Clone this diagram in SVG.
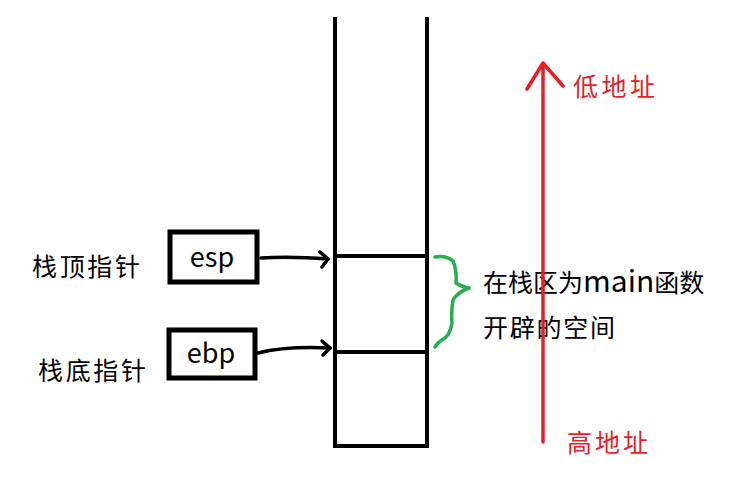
<svg xmlns="http://www.w3.org/2000/svg" width="753" height="493" viewBox="0 0 753 493">
<defs>
<style>
.t{font-family:"Noto Sans CJK SC","Microsoft YaHei",sans-serif;font-size:25px;fill:#000}
.lat{font-size:27px}
.big{font-size:30px}
.r{fill:#ed1c24}
.blk{fill:none;stroke:#000;stroke-width:4;stroke-linecap:square}
.box{fill:#fff;stroke:#000;stroke-width:5}
.arr{fill:none;stroke:#000;stroke-width:3.5;stroke-linecap:round;stroke-linejoin:round}
</style>
</defs>
<rect width="753" height="493" fill="#fff"/>
<g id="stack">
<path class="blk" d="M335 19 V446 H427 V19"/>
<line class="blk" x1="335" y1="256" x2="427" y2="256"/>
<line class="blk" x1="335" y1="352" x2="427" y2="352"/>
</g>
<g id="esp">
<rect class="box" x="170" y="232" width="87" height="50"/>
<text class="t lat" x="212" y="267" text-anchor="middle">esp</text>
</g>
<g id="ebp">
<rect class="box" x="169" y="330" width="86" height="48"/>
<text class="t lat" x="211" y="363" text-anchor="middle">ebp</text>
</g>
<g id="label-esp"><text class="t" x="32" y="276" textLength="108">栈顶指针</text></g>
<g id="label-ebp"><text class="t" x="38" y="380" textLength="108">栈底指针</text></g>
<g id="label-main">
<text class="t" x="483" y="292"><tspan>在栈区为</tspan><tspan class="big">main</tspan><tspan>函数</tspan></text>
<text class="t" x="483" y="337" textLength="132">开辟的空间</text>
</g>
<g id="low"><text class="t r" x="573" y="96" textLength="82">低地址</text></g>
<g id="high"><text class="t r" x="567" y="452" textLength="81">高地址</text></g>
<g id="connectors">
<path class="arr" d="M261 258 Q290 256 328 259"/>
<path class="arr" d="M320 252 L328 259 L322 267"/>
<path class="arr" d="M258 353 Q285 346 330 348"/>
<path class="arr" d="M322 341 L330 348 L323 355"/>
<path d="M435 257 Q446 255 453 261 Q457 270 456 283 Q460 286 469 288 Q458 292 453 300 Q451 312 452 323 Q450 336 442 340 Q437 343 435 347" fill="none" stroke="#22b14c" stroke-width="3.5" stroke-linecap="round" stroke-linejoin="round"/>
<path d="M543 442 V63 M527 89 L543 63 L563 86" fill="none" stroke="#ed1c24" stroke-width="3.5" stroke-linecap="round" stroke-linejoin="round"/>
</g>
</svg>
